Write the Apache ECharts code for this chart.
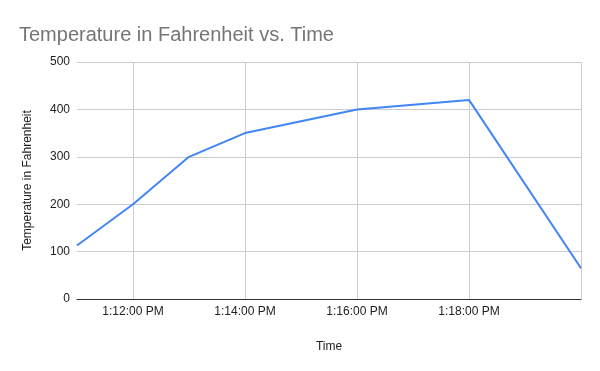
<!DOCTYPE html>
<html>
<head>
<meta charset="utf-8">
<script src="https://cdn.jsdelivr.net/npm/echarts@6/dist/echarts.min.js"></script>
<style>html,body{margin:0;padding:0;background:#fff}#c{width:600px;height:371px}</style>
</head>
<body>
<div id="c"></div>
<script>
var times = ['1:11:00 PM','1:12:00 PM','1:13:00 PM','1:14:00 PM','1:15:00 PM','1:16:00 PM','1:17:00 PM','1:18:00 PM','1:19:00 PM','1:20:00 PM'];
var temps = [113, 200, 300, 350, null, 400, null, 420, null, 65];
var yTicks = [0, 100, 200, 300, 400, 500];
var labeledTimes = ['1:12:00 PM','1:14:00 PM','1:16:00 PM','1:18:00 PM'];
var gridTimes = ['1:12:00 PM','1:14:00 PM','1:16:00 PM','1:18:00 PM','1:20:00 PM'];

var chart = echarts.init(document.getElementById('c'), null, {renderer: 'canvas'});
var font = 'Liberation Sans, Arial, sans-serif';
chart.setOption({
  animation: false,
  backgroundColor: '#ffffff',
  title: {
    text: 'Temperature in Fahrenheit vs. Time',
    left: 14, top: 20,
    textStyle: {fontFamily: font, fontSize: 20, fontWeight: 'normal', color: '#757575'}
  },
  grid: {left: 77, right: 19, top: 62, bottom: 72, containLabel: false},
  xAxis: {
    type: 'category',
    data: times,
    boundaryGap: false,
    name: 'Time',
    nameLocation: 'middle',
    nameGap: 42,
    nameTextStyle: {fontFamily: font, fontSize: 12, color: '#222222'},
    axisLine: {show: true, lineStyle: {color: '#333333', width: 1}},
    axisTick: {show: false},
    axisLabel: {
      fontFamily: font, fontSize: 12, color: '#222222', margin: 7,
      interval: function (i, v) { return labeledTimes.indexOf(v) >= 0; }
    },
    splitLine: {
      show: true,
      interval: function (i, v) { return gridTimes.indexOf(v) >= 0; },
      lineStyle: {color: '#cccccc', width: 1}
    }
  },
  yAxis: {
    type: 'value',
    min: yTicks[0], max: yTicks[yTicks.length - 1], interval: 100,
    name: 'Temperature in Fahrenheit',
    nameLocation: 'middle',
    nameGap: 43,
    nameTextStyle: {fontFamily: font, fontSize: 12, color: '#222222'},
    axisLine: {show: false},
    axisTick: {show: false},
    axisLabel: {fontFamily: font, fontSize: 12, color: '#222222', margin: 7},
    splitLine: {show: true, lineStyle: {color: '#cccccc', width: 1}}
  },
  series: [{
    type: 'line',
    data: temps,
    connectNulls: true,
    showSymbol: false,
    symbol: 'none',
    lineStyle: {color: '#4285F4', width: 2},
    itemStyle: {color: '#4285F4'}
  }]
});
</script>
</body>
</html>
